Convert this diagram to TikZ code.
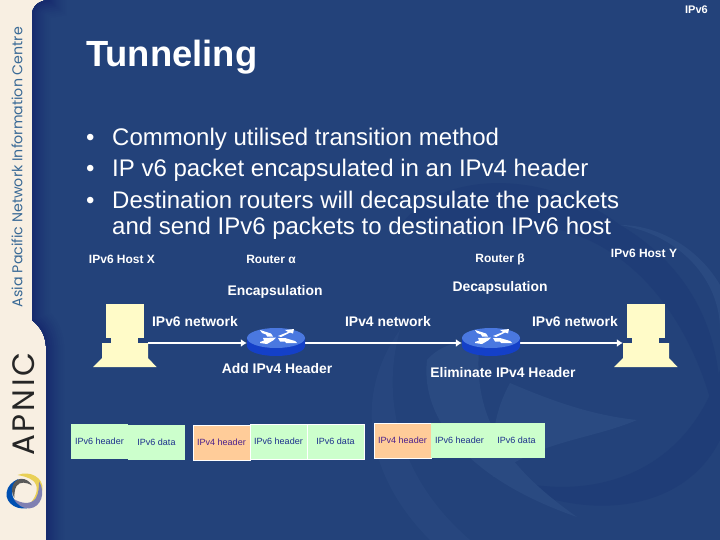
\documentclass[tikz,border=0pt]{standalone}
\usepackage{fontspec}
\setmainfont{Liberation Sans}
\newfontfamily\logofont{Poppins}
\newfontfamily\apnicfont[LetterSpace=9]{Poppins}
\usetikzlibrary{arrows.meta}
\definecolor{slidebg}{HTML}{23427A}
\definecolor{slidedark}{HTML}{15276C}
\definecolor{swirldark}{HTML}{1F3D77}
\definecolor{swirllight}{HTML}{2A4A81}
\definecolor{cream}{HTML}{F8EFE2}
\definecolor{hostcol}{HTML}{FFFBC8}
\definecolor{cellgreen}{HTML}{CCFFCC}
\definecolor{cellorange}{HTML}{FFCC99}
\definecolor{celltext}{HTML}{1C2F8C}
\definecolor{orangetext}{HTML}{4A1F8C}
\definecolor{routertop}{HTML}{4A78E0}
\definecolor{routerside}{HTML}{1440C8}
\definecolor{orgtext}{HTML}{3A6A96}
\tikzset{
  lab/.style={text=white,inner sep=0pt,font=\bfseries\fontsize{12}{13}\selectfont},
  labbig/.style={text=white,inner sep=0pt,font=\bfseries\fontsize{13.9}{15}\selectfont},
  bul/.style={text=white,inner sep=0pt,anchor=base west,font=\fontsize{24}{26}\selectfont},
  cell/.style={minimum width=57pt,minimum height=35pt,inner sep=0pt,text=celltext,font=\fontsize{9}{10}\selectfont,fill=cellgreen},
  cellb/.style={cell,draw=white,line width=0.8pt},
  cello/.style={cellb,fill=cellorange,text=orangetext},
  link/.style={draw=white,line width=2.6pt,-{Latex[length=6pt,width=8pt]}},
  hostshape/.style={fill=hostcol,draw=none},
  hostpt/.style={minimum width=46pt,minimum height=20pt,inner sep=0pt},
  routerpt/.style={minimum width=58pt,minimum height=28pt,inner sep=0pt},
}
\newcommand{\hostdraw}[1]{%
  \begin{scope}[shift={(#1)}]
    \fill[hostshape] (-19,-38) rectangle (19,-4);
    \fill[hostshape] (-14,-4.5) rectangle (13,1.5);
    \fill[hostshape] (-23,1) -- (23,1) -- (23,16) -- (31.5,25) -- (-32,25) -- (-23,16) -- cycle;
  \end{scope}}
\newcommand{\routerdraw}[1]{%
  \begin{scope}[shift={(#1)}]
    \fill[routerside] (-29,-5) -- (-29,3) arc[start angle=180,end angle=0,x radius=29,y radius=10] -- (29,-5) -- cycle;
    \fill[routertop] (0,-5) ellipse[x radius=29,y radius=10];
    \fill[white] (-16,-13) -- (-5,-9.5) -- (-3,-6.5) -- (-9,-6.5) -- (-10,-8.5) -- (-14,-10) -- cycle;
    \fill[white] (2,-7) -- (12,-11) -- (9,-13) -- (18,-14) -- (17,-9.5) -- (14,-10.5) -- (5,-6) -- cycle;
    \fill[white] (-16,-1) -- (-12,-2.5) -- (-13,-5) -- (0,-5.5) -- (-3,-2.5) -- (-9,1) -- (-16,0) -- cycle;
    \fill[white] (2,-5) -- (9,-5) -- (19,-2) -- (21,0) -- (10,0) -- (9,-1.5) -- (4,-1.5) -- cycle;
  \end{scope}}
\newcommand{\blade}[3]{%
  \fill[#1,rotate=#2,scale=#3] (-7,-16) .. controls (6,-21) and (19,-13) .. (18,-2) .. controls (17,5) and (13,9) .. (6,12) .. controls (12,5) and (15,-4) .. (9,-10) .. controls (4,-14) and (-2,-15) .. cycle;}
\begin{document}
\begin{tikzpicture}[x=1pt,y=-1pt]
\useasboundingbox (0,0) rectangle (720,540);
% sidebar and panel
\fill[cream] (0,0) rectangle (720,540);
\begin{scope}
\clip (48,0) .. controls (38,1) and (32,7) .. (32,15) -- (32,320) .. controls (38,325) and (45,332) .. (46,346) -- (46,540) -- (720,540) -- (720,0) -- cycle;
\fill[slidebg] (0,0) rectangle (720,540);
% faint background swirl
\fill[swirldark] (405,220) .. controls (440,175) and (540,165) .. (620,225) .. controls (680,260) and (720,320) .. (720,400) -- (720,440) .. controls (700,330) and (640,250) .. (560,230) .. controls (500,220) and (450,230) .. cycle;
\fill[swirldark] (500,477) .. controls (570,500) and (680,490) .. (720,370) -- (720,440) .. controls (680,520) and (570,520) .. cycle;
\fill[swirllight] (427,360) .. controls (420,420) and (470,480) .. (577,517) .. controls (510,470) and (470,420) .. (480,340) .. controls (460,340) and (440,345) .. cycle;
\fill[swirllight] (510,383) .. controls (550,400) and (590,415) .. (637,420) .. controls (590,440) and (540,440) .. (493,477) .. controls (490,440) and (495,410) .. cycle;
\fill[swirllight] (620,225) .. controls (680,235) and (720,280) .. (720,330) -- (720,285) .. controls (700,250) and (660,225) .. cycle;
\fill[swirllight,opacity=.6] (400,330) .. controls (350,400) and (370,480) .. (430,540) -- (470,540) .. controls (400,480) and (380,400) .. cycle;
% shading along the panel's left edge
\foreach \w/\m in {36/6,32/12,28/20,24/28,20/38,16/48,12/60,8/72,4/86}{
  \draw[slidedark!\m!slidebg,line width=\w pt] (48,-30) -- (48,0) .. controls (38,1) and (32,7) .. (32,15) -- (32,320) .. controls (38,325) and (45,332) .. (46,346) -- (46,570);
}
\end{scope}
% sidebar text
\node[text=orgtext,rotate=90,inner sep=0pt,font=\logofont\fontsize{14.2}{16}\selectfont] (org) at (17,167) {Asia Pacific Network Information Centre};
\node[text=black!85,rotate=90,inner sep=0pt,font=\apnicfont\fontsize{31}{34}\selectfont] (apnic) at (24,404) {APNIC};
% swirl logo
\begin{scope}[shift={(24.5,491)}]
\blade{yellow!55!brown!80!white}{0}{1}
\blade{blue!55!cyan!70!black}{180}{1}
\blade{blue!25!gray!80!white}{-80}{1}
\blade{black!65}{100}{.7}
\end{scope}
% heading
\node[text=white,anchor=base west,inner sep=0pt,font=\bfseries\fontsize{36.4}{40}\selectfont] (title) at (86,67) {Tunneling};
\node[text=white,anchor=base east,inner sep=0pt,font=\bfseries\fontsize{11}{12}\selectfont] (tag) at (708,14) {IPv6};
\node[bul] (b1m) at (86,146) {•};
\node[bul] (b1) at (112,146) {Commonly utilised transition method};
\node[bul] (b2m) at (86,177) {•};
\node[bul] (b2) at (112,177) {IP v6 packet encapsulated in an IPv4 header};
\node[bul] (b3m) at (86,209) {•};
\node[bul] (b3) at (112,209) {Destination routers will decapsulate the packets};
\node[bul] (b4) at (112,234) {and send IPv6 packets to destination IPv6 host};
% labels
\node[lab] (hx) at (122,259) {IPv6 Host X};
\node[lab] (ra) at (271,259) {Router α};
\node[lab] (rb) at (500,259) {Router β};
\node[lab] (hy) at (644,253) {IPv6 Host Y};
\node[labbig] (enc) at (275,292) {Encapsulation};
\node[labbig] (dec) at (500,288) {Decapsulation};
\node[labbig] (n1) at (195,322) {IPv6 network};
\node[labbig] (n2) at (388,322) {IPv4 network};
\node[labbig] (n3) at (575,322) {IPv6 network};
\node[labbig] (add) at (277,369) {Add IPv4 Header};
\node[labbig] (eli) at (503,373) {Eliminate IPv4 Header};
% hosts, routers
\hostdraw{125,342}
\hostdraw{646,342}
\node[hostpt] (hostx) at (125,343) {};
\node[hostpt] (hosty) at (646,343) {};
\node[routerpt] (rta) at (276,343) {};
\node[routerpt] (rtb) at (491,343) {};
\draw[link] (hostx.east) -- (rta.west);
\draw[link] (rta.east) -- (rtb.west);
\draw[link] (rtb.east) -- (hosty.west);
\routerdraw{276,343}
\routerdraw{491,343}
% packets
\node[cell] (c1) at (99.5,441.5) {IPv6 header};
\node[cell] (c2) at (156.5,442) {IPv6 data};
\node[cello] (c3) at (221.5,442.5) {IPv4 header};
\node[cellb] (c4) at (278.5,441.5) {IPv6 header};
\node[cellb] (c5) at (335.5,441.5) {IPv6 data};
\node[cello] (c6) at (402.5,440.5) {IPv4 header};
\node[cell] (c7) at (459.5,440.5) {IPv6 header};
\node[cell] (c8) at (516.5,440) {IPv6 data};
\end{tikzpicture}
\end{document}
